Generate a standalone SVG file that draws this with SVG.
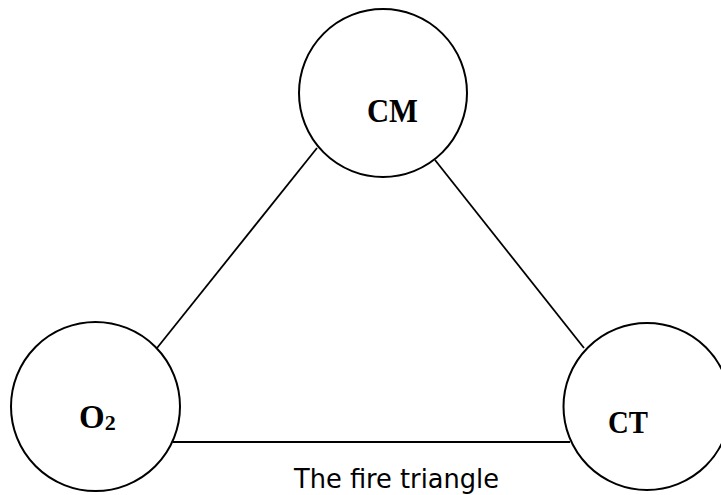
<svg xmlns="http://www.w3.org/2000/svg" width="721" height="495" viewBox="0 0 721 495">
<style>
.node{fill:#fff;stroke:#000;stroke-width:2}
.lbl{font-family:"Liberation Serif","Times New Roman",serif;font-weight:bold;fill:#000}
.conn line{stroke:#000;stroke-width:1.8}
.cap{font-family:"DejaVu Sans",Tahoma,sans-serif;fill:#000}
</style>
<rect width="721" height="495" fill="#fff"/>
<g id="connectors" class="conn">
<line x1="317" y1="148" x2="157" y2="348"/>
<line x1="435" y1="160" x2="584" y2="348"/>
<line x1="173" y1="442" x2="570" y2="442"/>
</g>
<g id="node-CM">
<circle class="node" cx="383" cy="93" r="84"/>
<text class="lbl" x="367" y="122" font-size="33" textLength="51" lengthAdjust="spacingAndGlyphs">CM</text>
</g>
<g id="node-O2">
<circle class="node" cx="95.5" cy="406.5" r="84.5"/>
<text class="lbl" x="79" y="428" font-size="33">O<tspan font-size="22" dy="2">2</tspan></text>
</g>
<g id="node-CT">
<circle class="node" cx="647" cy="406.5" r="83.5"/>
<text class="lbl" x="608" y="433" font-size="31" textLength="40" lengthAdjust="spacingAndGlyphs">CT</text>
</g>
<text id="caption" class="cap" x="294" y="488" font-size="27" textLength="205" lengthAdjust="spacingAndGlyphs">The fire triangle</text>
</svg>
